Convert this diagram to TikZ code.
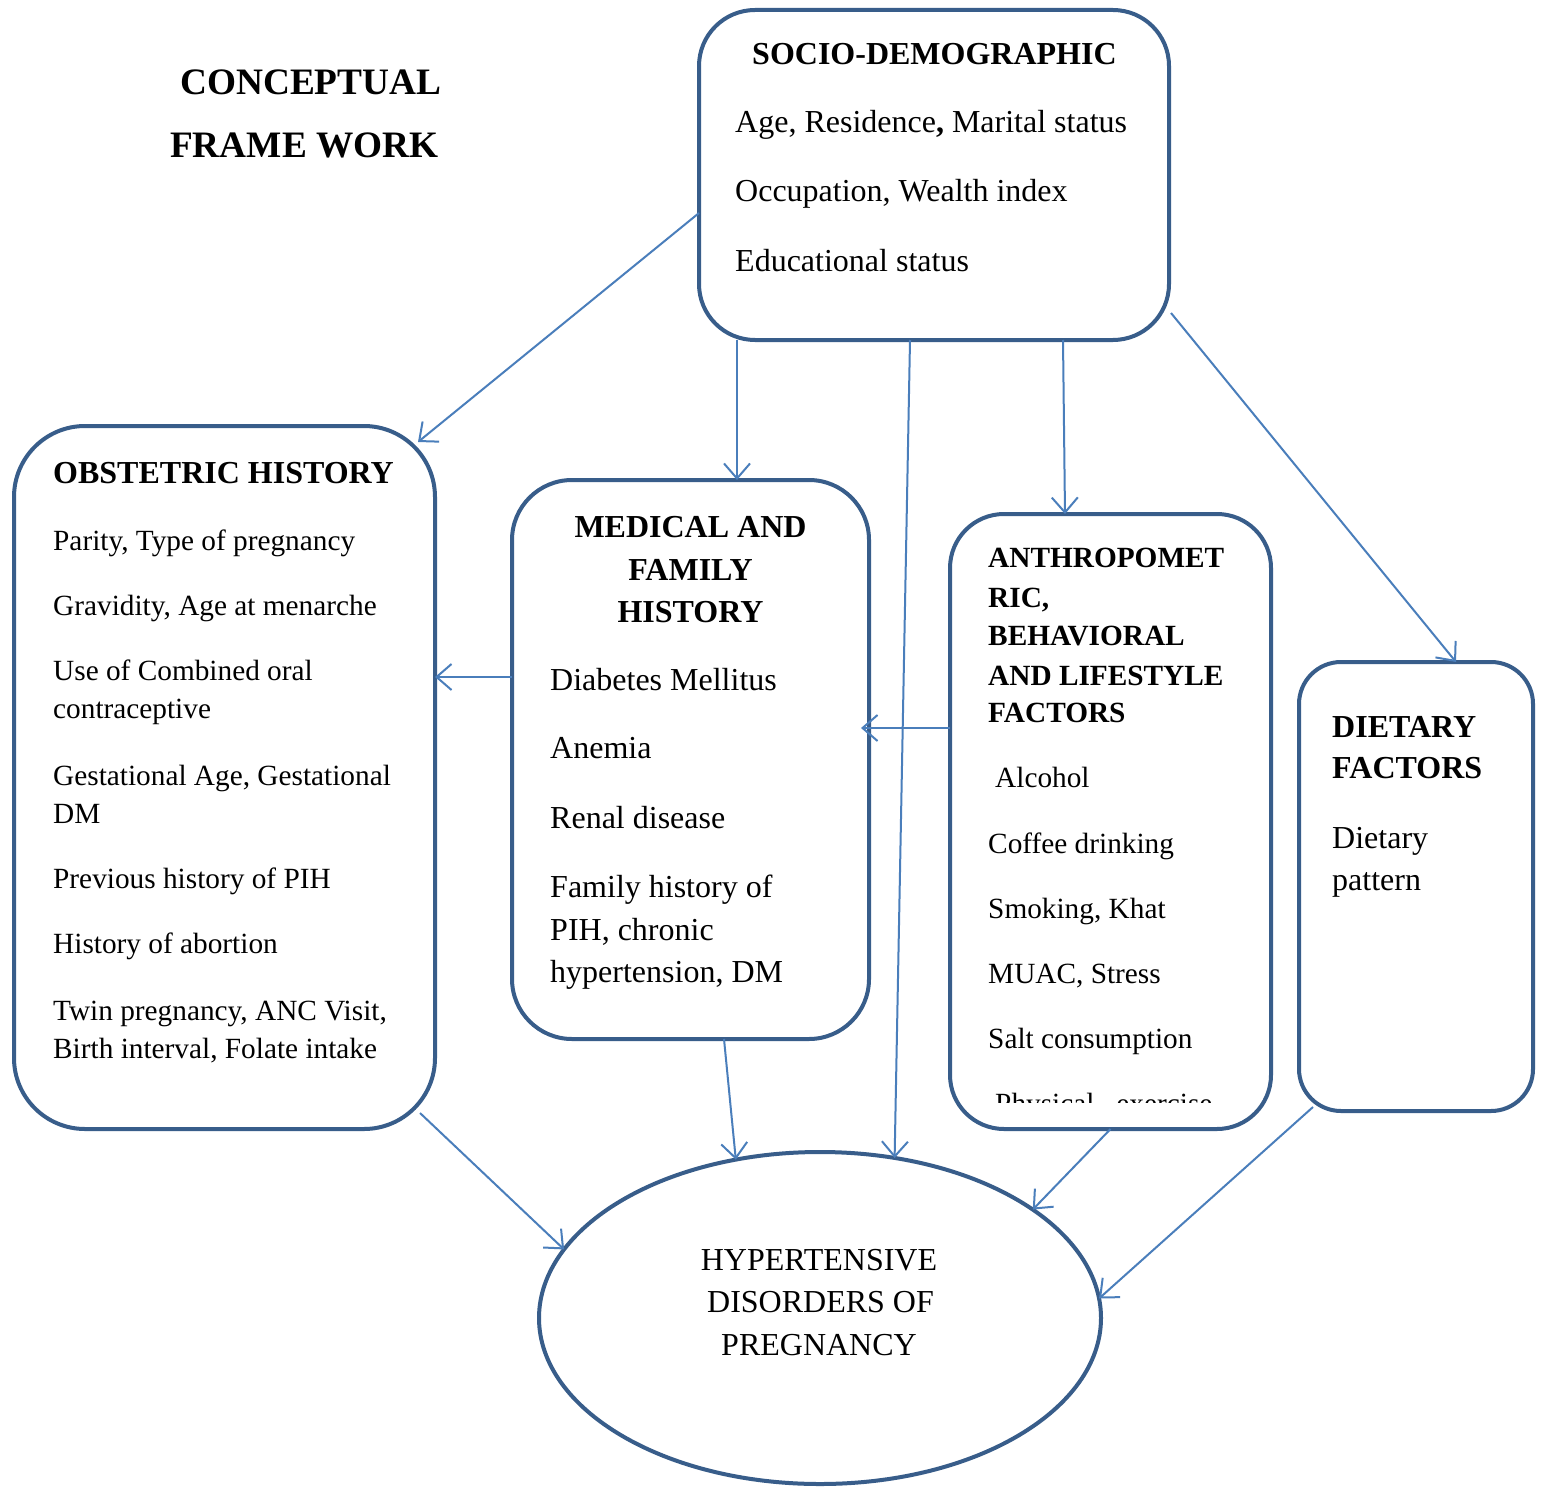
\documentclass[tikz,border=0pt]{standalone}
\usepackage{fontspec}
\setmainfont{Liberation Serif}
\usetikzlibrary{arrows.meta,shapes.geometric,calc}
\definecolor{boxblue}{RGB}{56,93,138}
\definecolor{arrowblue}{RGB}{74,126,187}
\tikzset{
  boxnode/.style={draw=boxblue, line width=4pt, fill=none, inner sep=0pt, outer sep=0pt},
  conn/.style={draw=arrowblue, line width=2pt, -{Straight Barb[length=15pt,width=26pt,line width=2pt]}},
  body/.style={anchor=base west, inner sep=0pt, font=\fontsize{32}{38}\selectfont},
  small/.style={anchor=base west, inner sep=0pt, font=\fontsize{29.3}{35}\selectfont},
  bodyc/.style={anchor=base, inner sep=0pt, font=\fontsize{32}{38}\selectfont},
  head/.style={anchor=base west, inner sep=0pt, font=\fontsize{32}{38}\selectfont\bfseries},
  smallhead/.style={anchor=base west, inner sep=0pt, font=\fontsize{29.3}{35}\selectfont\bfseries},
  headc/.style={anchor=base, inner sep=0pt, font=\fontsize{32}{38}\selectfont\bfseries},
  titletext/.style={anchor=base west, inner sep=0pt, font=\fontsize{37.3}{44}\selectfont\bfseries}
}
\begin{document}
\begin{tikzpicture}[x=1pt,y=-1pt]
\useasboundingbox (0,0) rectangle (1546,1487);
\fill[white] (0,0) rectangle (1546,1487);

% boxes
\node[boxnode, rectangle, rounded corners=56pt, minimum width=470pt, minimum height=330pt] (socio) at (934,175) {};
\node[boxnode, rectangle, rounded corners=71pt, minimum width=421pt, minimum height=703pt] (obs) at (224.5,777.5) {};
\node[boxnode, rectangle, rounded corners=60pt, minimum width=357pt, minimum height=559pt] (med) at (690.5,759.5) {};
\node[boxnode, rectangle, rounded corners=54pt, minimum width=321pt, minimum height=615pt] (anth) at (1110.5,821.5) {};
\node[boxnode, rectangle, rounded corners=42pt, minimum width=234pt, minimum height=449pt] (diet) at (1416,886.5) {};
\node[boxnode, ellipse, minimum width=562pt, minimum height=332pt] (hdp) at (820,1318) {};

% title
\node[titletext] (ti1) at (180,95) {CONCEPTUAL};
\node[titletext] (ti2) at (170,158) {FRAME WORK};

% socio-demographic
\node[head] (so0) at (752,65) {SOCIO-DEMOGRAPHIC};
\node[body] (so1) at (735,133) {Age, Residence{\bfseries,} Marital status};
\node[body] (so2) at (735,202) {Occupation, Wealth index};
\node[body] (so3) at (735,272) {Educational status};

% obstetric
\node[head] (ob0) at (53,483) {OBSTETRIC HISTORY};
\node[small] (ob1) at (53,550) {Parity, Type of pregnancy};
\node[small] (ob2) at (53,615) {Gravidity, Age at menarche};
\node[small] (ob3) at (53,680) {Use of Combined oral};
\node[small] (ob4) at (53,718) {contraceptive};
\node[small] (ob5) at (53,785) {Gestational Age, Gestational};
\node[small] (ob6) at (53,823) {DM};
\node[small] (ob7) at (53,888) {Previous history of PIH};
\node[small] (ob8) at (53,953) {History of abortion};
\node[small] (ob9) at (53,1020) {Twin pregnancy, ANC Visit,};
\node[small] (ob10) at (53,1058) {Birth interval, Folate intake};

% medical
\node[headc] (me0) at (690.5,537) {MEDICAL AND};
\node[headc] (me1) at (690.5,580) {FAMILY};
\node[headc] (me2) at (690.5,622) {HISTORY};
\node[body] (me3) at (550,690) {Diabetes Mellitus};
\node[body] (me4) at (550,758) {Anemia};
\node[body] (me5) at (550,828) {Renal disease};
\node[body] (me6) at (550,897) {Family history of};
\node[body] (me7) at (550,940) {PIH, chronic};
\node[body] (me8) at (550,982) {hypertension, DM};

% anthropometric
\node[smallhead] (an0) at (988,567) {ANTHROPOMET};
\node[smallhead] (an1) at (988,607) {RIC,};
\node[smallhead] (an2) at (988,645) {BEHAVIORAL};
\node[smallhead] (an3) at (988,685) {AND LIFESTYLE};
\node[smallhead] (an4) at (988,722) {FACTORS};
\node[small] (an5) at (995,787) {Alcohol};
\node[small] (an6) at (988,853) {Coffee drinking};
\node[small] (an7) at (988,918) {Smoking, Khat};
\node[small] (an8) at (988,983) {MUAC, Stress};
\node[small] (an9) at (988,1048) {Salt consumption};
\begin{scope}
\clip (960,1060) rectangle (1260,1102);
\node[small] (an10) at (995,1113) {Physical\hspace{22pt}exercise};
\end{scope}

% dietary
\node[head] (di0) at (1332,737) {DIETARY};
\node[head] (di1) at (1332,778) {FACTORS};
\node[body] (di2) at (1332,848) {Dietary};
\node[body] (di3) at (1332,890) {pattern};

% outcome
\node[bodyc] (hd0) at (819,1270) {HYPERTENSIVE};
\node[bodyc] (hd1) at (820.5,1312) {DISORDERS OF};
\node[bodyc] (hd2) at (819,1355) {PREGNANCY};

% connectors
\draw[conn] ($(socio.west)+(0,38)$) -- ($(obs.north east)+(-17,16)$);
\draw[conn] ($(socio.south west)+(38,0)$) -- ($(med.north)+(46.5,0)$);
\draw[conn] ($(socio.south)+(-24,0)$) -- (hdp.65);
\draw[conn] ($(socio.south)+(129,0)$) -- ($(anth.north)+(-45.5,0)$);
\draw[conn] ($(socio.south east)+(2,-27)$) -- ($(diet.north)+(40,0)$);
\draw[conn] ($(med.west)+(0,-82.5)$) coordinate (m6) -- (m6 -| obs.east);
\draw[conn] ($(anth.west)+(0,-93.5)$) coordinate (m7) -- ($(m7 -| med.east)+(-8,0)$);
\draw[conn] ($(obs.south east)+(-15,-16)$) -- (hdp.165);
\draw[conn] ($(med.south)+(33.5,0)$) -- (hdp.118);
\draw[conn] (anth.south) -- (hdp.27);
\draw[conn] ($(diet.south west)+(14,-4)$) -- (hdp.4);
\end{tikzpicture}
\end{document}
